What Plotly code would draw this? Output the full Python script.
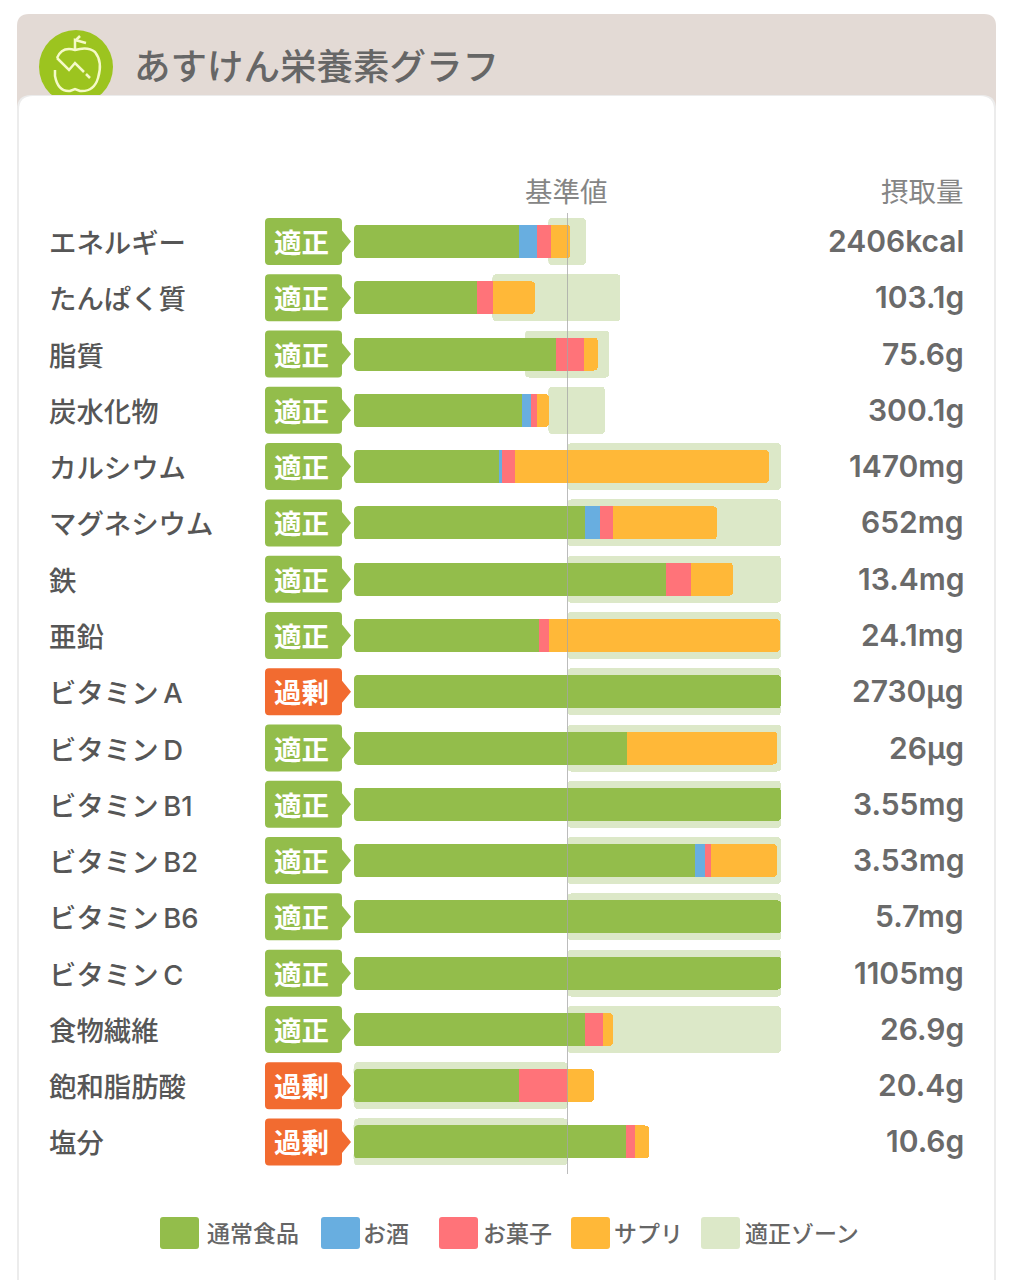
#!/usr/bin/env python3
"""あすけん栄養素グラフ"""

import plotly.graph_objects as go

W, H = 1014, 1280
FONT = "Noto Sans CJK JP"
LATIN_FONT = "Inter, Noto Sans CJK JP"

# x is percent of the reference value, y is the row number
ZERO_PX = 354
PX_PER_PCT = 2.135
ROW0_PX = 241.5
ROW_PX = 56.28
BAR_PX = 33
ZONE_PX = 47

nutrients = ['エネルギー', 'たんぱく質', '脂質', '炭水化物', 'カルシウム', 'マグネシウム', '鉄', '亜鉛',
             'ビタミン\u2009A', 'ビタミン\u2009D', 'ビタミン\u2009B1', 'ビタミン\u2009B2', 'ビタミン\u2009B6', 'ビタミン\u2009C',
             '食物繊維', '飽和脂肪酸', '塩分']
status = ['適正', '適正', '適正', '適正', '適正', '適正', '適正', '適正',
          '過剰', '適正', '適正', '適正', '適正', '適正',
          '適正', '過剰', '過剰']
intake = ['2406kcal', '103.1g', '75.6g', '300.1g', '1470mg', '652mg', '13.4mg', '24.1mg',
          '2730µg', '26µg', '3.55mg', '3.53mg', '5.7mg', '1105mg',
          '26.9g', '20.4g', '10.6g']

normal_food = [77.3, 57.5, 94.5, 78.5, 68.1, 108.2, 146.1, 86.6, 200, 127.9, 200, 159.7, 200, 200, 108, 77.1, 127.5]
alcohol = [8.3, 0, 0, 4.2, 1.3, 7, 0, 0, 0, 0, 0, 4.7, 0, 0, 0, 0, 0]
snacks = [6.6, 7.5, 13.1, 3, 5.9, 6.1, 11.7, 4.7, 0, 0, 0, 2.8, 0, 0, 8.4, 22.8, 4.1]
supplements = [9.2, 19.7, 6.6, 5.6, 119, 48.7, 19.7, 108.2, 0, 70.3, 0, 30.9, 0, 0, 4.8, 12.4, 6.6]

zone_low = [91, 64.8, 80.1, 91, 100, 100, 100, 100, 100, 100, 100, 100, 100, 100, 100, 0, 0]
zone_high = [108.7, 124.8, 119.6, 117.6, 200, 200, 200, 200, 200, 200, 200, 200, 200, 200, 200, 100, 100]

reference_value = 100

GREEN = '#93bd4b'
BLUE = '#68aee0'
PINK = '#ff7379'
ORANGE = '#ffb838'
ZONE = '#dce8c8'
ALERT = '#f26b30'
TEXT = '#565656'
MUTED = '#858585'
NONE = 'rgba(0,0,0,0)'

series = [('通常食品', normal_food, GREEN), ('お酒', alcohol, BLUE),
          ('お菓子', snacks, PINK), ('サプリ', supplements, ORANGE)]

legend_labels = ['通常食品', 'お酒', 'お菓子', 'サプリ', '適正ゾーン']
legend_colors = [GREEN, BLUE, PINK, ORANGE, ZONE]
legend_box_px = [160, 321, 439, 571, 701]
legend_text_px = [205, 361, 481, 612, 743]

rows = list(range(len(nutrients)))


def px(x):
    return x / W


def py(y):
    return 1 - y / H


def path(*cmds):
    """Build an SVG path from pixel points, e.g. ('M', 10, 20)."""
    out = []
    for c in cmds:
        nums = c[1:]
        pts = [f"{px(nums[i]):.5f},{py(nums[i + 1]):.5f}" for i in range(0, len(nums), 2)]
        out.append(c[0] + ' '.join(pts))
    return ' '.join(out)


def round_rect(x0, y0, x1, y1, r):
    return path(('M', x0 + r, y0), ('L', x1 - r, y0), ('Q', x1, y0, x1, y0 + r),
                ('L', x1, y1 - r), ('Q', x1, y1, x1 - r, y1),
                ('L', x0 + r, y1), ('Q', x0, y1, x0, y1 - r),
                ('L', x0, y0 + r), ('Q', x0, y0, x0 + r, y0), ('Z',))


def badge(yc, r=4):
    x0, x1, tip = 265, 342, 351
    y0, y1 = yc - 23.5, yc + 23.5
    return path(('M', x0 + r, y0), ('L', x1 - r, y0), ('Q', x1, y0, x1, y0 + r),
                ('L', x1, yc - 11), ('L', tip, yc), ('L', x1, yc + 11),
                ('L', x1, y1 - r), ('Q', x1, y1, x1 - r, y1),
                ('L', x0 + r, y1), ('Q', x0, y1, x0, y1 - r),
                ('L', x0, y0 + r), ('Q', x0, y0, x0 + r, y0), ('Z',))


def deco(d, fill, line=None, width=0, layer='below'):
    return dict(type='path', xref='paper', yref='paper', path=d, fillcolor=fill,
                line=dict(color=line or NONE, width=width), layer=layer)


def left_corners(x, yc, height, color, r=4):
    # stacked bars only round their far end, so the near end is trimmed here
    y0, y1 = yc - height / 2, yc + height / 2
    return [deco(path(('M', x - 0.5, y0 - 0.5), ('L', x + r, y0 - 0.5), ('Q', x, y0, x, y0 + r), ('L', x - 0.5, y0 + r), ('Z',)),
                 color, layer='above'),
            deco(path(('M', x - 0.5, y1 + 0.5), ('L', x + r, y1 + 0.5), ('Q', x, y1, x, y1 - r), ('L', x - 0.5, y1 - r), ('Z',)),
                 color, layer='above')]


def label(text, x, y, size, color, anchor='left', weight=400, family=FONT):
    return dict(text=text, x=px(x), y=py(y), xref='paper', yref='paper', xanchor=anchor, yanchor='middle',
                showarrow=False, font=dict(family=family, size=size, color=color, weight=weight))


x_range = [-ZERO_PX / PX_PER_PCT, (W - ZERO_PX) / PX_PER_PCT]
y_range = [(H - ROW0_PX) / ROW_PX, -ROW0_PX / ROW_PX]

fig = go.Figure()

# adequate zone sits on the base axes, the stacked intake bars on an overlay
fig.add_trace(go.Bar(
    y=rows, x=[h - l for l, h in zip(zone_low, zone_high)], base=zone_low,
    orientation='h', width=ZONE_PX / ROW_PX, marker=dict(color=ZONE, line_width=0),
    name='適正ゾーン', xaxis='x', yaxis='y',
))
for name, values, color in series:
    fig.add_trace(go.Bar(
        y=rows, x=values, orientation='h', width=BAR_PX / ROW_PX,
        marker=dict(color=color, line_width=0), name=name, xaxis='x2', yaxis='y2',
    ))

shapes = []

# card and header
shapes.append(deco(round_rect(17, 14, 996, 120, 12), '#e3dad5'))
shapes.append(dict(type='circle', xref='paper', yref='paper', x0=px(39), x1=px(113), y0=py(104), y1=py(30),
                   fillcolor='#9cc41f', line_width=0, layer='below'))
icon = '#f5fac8'
shapes.append(deco(path(('M', 57, 58), ('Q', 62, 46, 75, 50), ('Q', 88, 46, 95, 52), ('Q', 103, 62, 98, 78),
                        ('Q', 94, 92, 80, 91), ('L', 75, 89), ('L', 70, 91), ('Q', 58, 92, 55, 76), ('L', 55, 70)),
                   NONE, icon, 2.5))
shapes.append(deco(path(('M', 57, 58), ('L', 69, 70), ('L', 75, 63), ('L', 84, 72)), NONE, icon, 2.5))
shapes.append(deco(path(('M', 86, 74), ('L', 90, 78)), NONE, icon, 2.5))
shapes.append(deco(path(('M', 75, 50), ('L', 75, 40), ('L', 86, 43), ('M', 75, 41), ('L', 80, 36)), NONE, icon, 2.5))
shapes.append(deco(round_rect(17, 95, 996, 1320, 14), '#ececec'))
shapes.append(deco(round_rect(19, 96, 994, 1320, 14), '#ffffff'))

# status badges
for i, s in enumerate(status):
    shapes.append(deco(badge(ROW0_PX + i * ROW_PX), ALERT if s == '過剰' else GREEN))

# legend swatches
for x0, color in zip(legend_box_px, legend_colors):
    shapes.append(deco(round_rect(x0, 1217, x0 + 39, 1249, 3), color))

# near-end corners of the zones and the bars
for i in rows:
    yc = ROW0_PX + i * ROW_PX
    shapes += left_corners(ZERO_PX + zone_low[i] * PX_PER_PCT, yc, ZONE_PX, 'white')
    shapes += left_corners(ZERO_PX, yc, BAR_PX, ZONE if zone_low[i] == 0 else 'white')

# reference line on top of the bars
shapes.append(dict(type='line', xref='x', yref='paper', x0=reference_value, x1=reference_value,
                   y0=py(213), y1=py(1174), line=dict(color='rgba(165,165,165,0.75)', width=1), layer='above'))

annotations = [
    label('あすけん栄養素グラフ', 132, 64, 36.5, '#666666', weight=500),
    label('摂取量', 966, 190, 27.5, MUTED, anchor='right'),
    dict(text='基準値', x=reference_value - 0.5, y=py(190), xref='x', yref='paper', xanchor='center', yanchor='middle',
         showarrow=False, font=dict(family=FONT, size=27.5, color=MUTED)),
]
for i in rows:
    yc = ROW0_PX + i * ROW_PX
    annotations.append(label(nutrients[i], 47, yc + 1.5, 27.4, TEXT, weight=500, family=LATIN_FONT))
    annotations.append(label(status[i], 301.5, yc - 0.5, 27.5, 'white', anchor='center', weight=700))
    annotations.append(label(intake[i], 966, yc - 0.5, 30, '#6a6a6a', anchor='right', weight=600, family=LATIN_FONT))
for text, x in zip(legend_labels, legend_text_px):
    annotations.append(label(text, x, 1232, 23, '#666666', weight=500))

hidden = dict(visible=False, fixedrange=True, showgrid=False, zeroline=False)

fig.update_layout(
    width=W, height=H,
    margin=dict(l=0, r=0, t=0, b=0, pad=0),
    paper_bgcolor='white', plot_bgcolor=NONE,
    barmode='stack', barcornerradius=4,
    showlegend=False,
    xaxis=dict(range=x_range, **hidden),
    yaxis=dict(range=y_range, **hidden),
    xaxis2=dict(range=x_range, overlaying='x', **hidden),
    yaxis2=dict(range=y_range, overlaying='y', **hidden),
    shapes=shapes,
    annotations=annotations,
)

fig.write_html("out.html", config={'displayModeBar': False},
               post_script="document.body.style.margin='0';")
